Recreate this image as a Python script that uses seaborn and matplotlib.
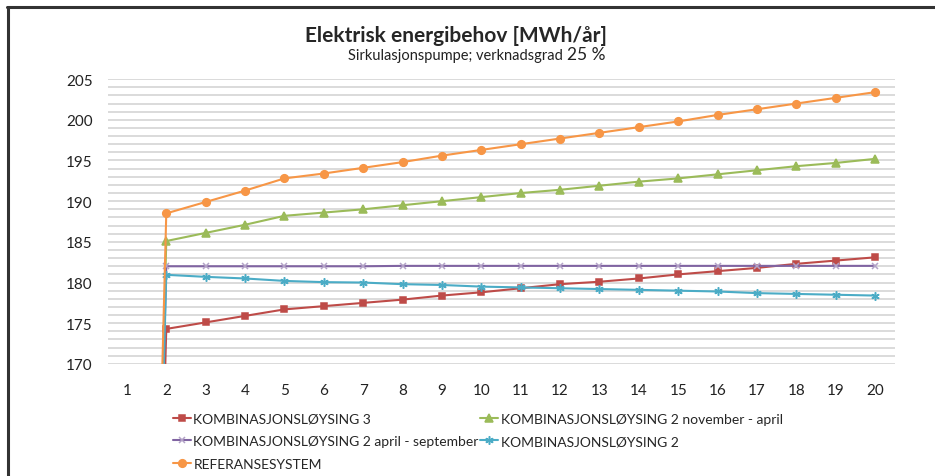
import numpy as np
import pandas as pd
import matplotlib
matplotlib.use("Agg")
import matplotlib.pyplot as plt
from matplotlib.lines import Line2D
import seaborn as sns

years = list(range(1, 21))
komb3 = [0, 174.3, 175.1, 175.9, 176.7, 177.1, 177.5, 177.9, 178.4, 178.8, 179.3,
         179.8, 180.1, 180.5, 181.0, 181.4, 181.8, 182.3, 182.7, 183.1]
komb2_nov_apr = [0, 185.1, 186.1, 187.1, 188.2, 188.6, 189.0, 189.5, 190.0, 190.5, 191.0,
                 191.4, 191.9, 192.4, 192.8, 193.3, 193.8, 194.3, 194.7, 195.2]
komb2_apr_sep = [0, 182.0, 182.0, 182.0, 182.0, 182.0, 182.0, 182.05, 182.05, 182.05, 182.05,
                 182.05, 182.05, 182.05, 182.05, 182.05, 182.05, 182.05, 182.05, 182.05]
komb2 = [0, 180.95, 180.7, 180.5, 180.2, 180.05, 180.0, 179.8, 179.7, 179.5, 179.4,
         179.3, 179.2, 179.1, 179.0, 178.9, 178.7, 178.6, 178.5, 178.4]
referanse = [0, 188.5, 189.9, 191.3, 192.8, 193.4, 194.1, 194.8, 195.6, 196.3, 197.0,
             197.7, 198.4, 199.1, 199.8, 200.6, 201.3, 202.0, 202.7, 203.4]

names = ["KOMBINASJONSLØYSING 3",
         "KOMBINASJONSLØYSING 2 november - april",
         "KOMBINASJONSLØYSING 2 april - september",
         "KOMBINASJONSLØYSING 2",
         "REFERANSESYSTEM"]
series = [komb3, komb2_nov_apr, komb2_apr_sep, komb2, referanse]
colors = ["#BE4B48", "#9BBB59", "#8064A2", "#4BACC6", "#F79646"]
marker_colors = ["#BE4B48", "#9BBB59", "#B3A2C7", "#4BACC6", "#F79646"]
markers = ["s", "^", "x", (6, 2, 0), "o"]
msizes = [5, 5.5, 5, 6, 5.5]

title = "Elektrisk energibehov [MWh/år]"
subtitle_main = "Sirkulasjonspumpe; verknadsgrad"
subtitle_value = "25 %"
yticks = [170, 175, 180, 185, 190, 195, 200, 205]

sns.set_theme(style="white")
plt.rcParams["font.family"] = ["Lato", "DejaVu Sans"]

fig = plt.figure(figsize=(9.35, 4.77), dpi=100)
ax = fig.add_axes([0.1155, 0.235, 0.957 - 0.1155, 0.832 - 0.235])

rows = []
for name, vals in zip(names, series):
    for x, v in zip(years, vals):
        rows.append({"year": x, "value": v, "serie": name})
df = pd.DataFrame(rows)

for name, c, mc, m, ms in zip(names, colors, marker_colors, markers, msizes):
    sub = df[df["serie"] == name]
    sns.lineplot(data=sub, x="year", y="value", ax=ax, color=c, marker=m,
                 markersize=ms, linewidth=1.5, markeredgecolor=mc, markerfacecolor=mc,
                 markeredgewidth=1.1, label=name, clip_on=True)

ax.set_xlim(0.52, 20.5)
ax.set_ylim(170, 205)
ax.set_xticks(years)
ax.set_xticklabels([str(y) for y in years])
ax.set_yticks(yticks)
ax.set_yticks(np.arange(170, 206, 1), minor=True)
ax.grid(True, which="both", axis="y", color="#D4D4D4", linewidth=1.2)
ax.grid(False, axis="x")
for s in ax.spines.values():
    s.set_visible(False)
ax.tick_params(axis="both", which="both", length=0, labelsize=11, colors="#222222")
ax.tick_params(axis="x", pad=14)
ax.tick_params(axis="y", pad=11)
ax.set_xlabel("")
ax.set_ylabel("")

handles, labels = ax.get_legend_handles_labels()
order = [0, 2, 4, 1, 3]
ax.legend([handles[i] for i in order], [labels[i] for i in order],
          ncol=2, loc="upper left", bbox_to_anchor=(0.075, -0.152),
          frameon=False, fontsize=10, handlelength=1.3, handletextpad=0.2,
          columnspacing=0.1, labelspacing=0.75, borderaxespad=0)

fig.text(0.488, 0.925, title, ha="center", va="center", fontsize=15, fontweight="bold")
fig.text(0.602, 0.882, subtitle_main, ha="right", va="center", fontsize=10.5, color="#222222")
fig.text(0.606, 0.884, subtitle_value, ha="left", va="center", fontsize=12.5, color="#222222")

# image frame
fig.add_artist(Line2D([0.007, 1.0], [0.983, 0.983], color="#333333", linewidth=2.2))
fig.add_artist(Line2D([0.009, 0.009], [0.0, 0.983], color="#333333", linewidth=2.2))

fig.savefig("out.png", dpi=100)
